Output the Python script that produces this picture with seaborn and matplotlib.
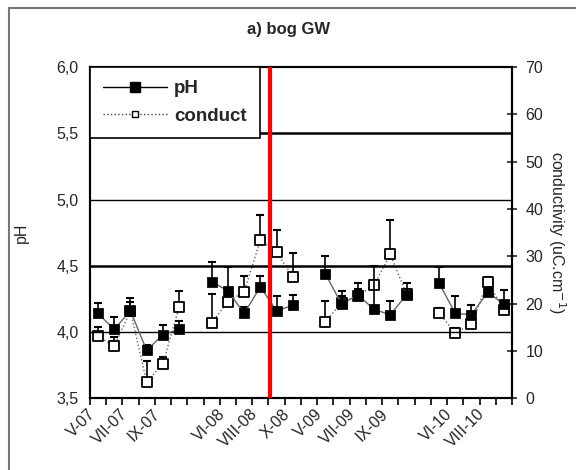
import numpy as np
import pandas as pd
import matplotlib
matplotlib.use("Agg")
import matplotlib.pyplot as plt
import seaborn as sns
from matplotlib.lines import Line2D
from matplotlib.ticker import FixedLocator, FuncFormatter

# ---------------- data ----------------
months = ["V-07", "VI-07", "VII-07", "VIII-07", "IX-07", "X-07", "",
          "V-08", "VI-08", "VII-08", "VIII-08", "IX-08", "X-08", "",
          "V-09", "VI-09", "VII-09", "VIII-09", "IX-09", "X-09", "",
          "V-10", "VI-10", "VII-10", "VIII-10", "IX-10"]
shown = {"V-07", "VII-07", "IX-07", "VI-08", "VIII-08", "X-08",
         "V-09", "VII-09", "IX-09", "VI-10", "VIII-10"}

nan = np.nan
ph = [4.14, 4.02, 4.16, 3.86, 3.98, 4.02, nan,
      4.38, 4.31, 4.14, 4.34, 4.16, 4.20, nan,
      4.44, 4.21, 4.28, 4.17, 4.13, 4.28, nan,
      4.37, 4.14, 4.13, 4.30, 4.21]
ph_err = [0.08, 0.09, 0.10, 0.04, 0.07, 0.06, nan,
          0.15, 0.18, 0.05, 0.08, 0.11, 0.08, nan,
          0.13, 0.10, 0.09, 0.33, 0.10, 0.09, nan,
          0.12, 0.13, 0.07, 0.03, 0.11]
cond = [13.1, 11.0, 18.4, 3.4, 7.3, 19.3, nan,
        15.9, 20.4, 22.5, 33.4, 30.9, 25.6, nan,
        16.1, 20.2, 21.6, 23.9, 30.4, 22.0, nan,
        18.0, 13.8, 15.6, 24.6, 18.6]
cond_err = [2.0, 2.0, 2.0, 4.5, 1.3, 3.4, nan,
            6.2, 2.0, 3.3, 5.3, 4.6, 5.0, nan,
            4.5, 1.5, 1.5, 1.0, 7.2, 1.0, nan,
            1.0, 1.0, 1.5, 1.0, 1.0]
event_pos = 10.6   # red line, between VIII-08 and IX-08

df = pd.DataFrame({"pos": np.arange(len(months)), "ph": ph, "ph_err": ph_err,
                   "cond": cond, "cond_err": cond_err})
df["seg"] = df["ph"].isna().cumsum()
d = df.dropna(subset=["ph"])

# ---------------- figure ----------------
sns.set_style("ticks")
plt.rcParams["font.family"] = ["Liberation Sans", "DejaVu Sans"]

fig = plt.figure(figsize=(5.76, 4.70), dpi=100)
ax = fig.add_axes([0.156, 0.153, 0.733, 0.704])
ax2 = ax.twinx()
# pH axis drawn above the conductivity axis
ax.set_zorder(ax2.get_zorder() + 1)
ax.patch.set_visible(False)

# horizontal reference lines
for y, lw in [(4.0, 1.0), (5.0, 1.0), (4.5, 1.8), (5.5, 1.8)]:
    ax.axhline(y, color="black", lw=lw, zorder=0)

# conductivity series
ax2.errorbar(d["pos"], d["cond"], yerr=[np.zeros(len(d)), d["cond_err"]], fmt="none",
             ecolor="black", elinewidth=1.2, capsize=3, capthick=1.5, zorder=2)
sns.lineplot(data=d, x="pos", y="cond", units="seg", estimator=None, color="#666666",
             lw=1, ls=":", ax=ax2, legend=False, zorder=3)
sns.scatterplot(data=d, x="pos", y="cond", marker="s", s=42, color="white",
                edgecolor="black", linewidth=1.3, ax=ax2, legend=False, zorder=4)

# pH series
ax.errorbar(d["pos"], d["ph"], yerr=[np.zeros(len(d)), d["ph_err"]], fmt="none",
            ecolor="black", elinewidth=1.2, capsize=3, capthick=1.5, zorder=2)
sns.lineplot(data=d, x="pos", y="ph", units="seg", estimator=None, color="#666666",
             lw=1, ax=ax, legend=False, zorder=3)
sns.scatterplot(data=d, x="pos", y="ph", marker="s", s=45, color="black",
                edgecolor="black", ax=ax, legend=False, zorder=4)

ax.axvline(event_pos, color="#ff0000", lw=3, zorder=6)

# axes
ax.set_xlim(-0.5, len(months) - 0.5)
ax.set_ylim(3.5, 6.0)
ax2.set_ylim(0, 70)
ax.set_yticks(np.arange(3.5, 6.01, 0.5))
ax.yaxis.set_major_formatter(FuncFormatter(lambda v, p: f"{v:.1f}".replace(".", ",")))
ax2.set_yticks(np.arange(0, 71, 10))

ax.xaxis.set_major_locator(FixedLocator(df["pos"].tolist()))
ax.set_xticklabels([m if m in shown else "" for m in months],
                   rotation=45, ha="right", fontsize=11.5)
ax.xaxis.set_minor_locator(FixedLocator(np.arange(-0.5, len(months), 1.0)))
ax.tick_params(axis="x", which="major", length=0, pad=6)
ax.tick_params(axis="x", which="minor", length=5, width=1.2, color="black")
ax.tick_params(axis="y", length=0, labelsize=11.5, pad=8)
ax2.tick_params(axis="y", direction="inout", length=7, width=1.2, labelsize=11.5, pad=6)

ax.set_xlabel("")
ax.set_ylabel("pH", fontsize=11.5, labelpad=20)
ax2.set_ylabel(r"conductivity (uC.cm$^{-1}$)", fontsize=11.5, rotation=270, labelpad=18)
ax.set_title("a) bog GW", fontsize=12, fontweight="bold", pad=24, x=0.47)

for a in (ax, ax2):
    for s in a.spines.values():
        s.set_color("black")
        s.set_linewidth(1.5)

handles = [
    Line2D([], [], color="black", lw=1, marker="s", ms=7, mfc="black", mec="black"),
    Line2D([], [], color="#444444", lw=1, ls=":", marker="s", ms=5, mfc="white", mec="black"),
]
leg = ax.legend(handles, ["pH", "conduct"], loc="upper left", bbox_to_anchor=(0, 1),
                borderaxespad=0, fancybox=False, framealpha=1, edgecolor="black",
                handlelength=3.4, handletextpad=0.4, labelspacing=0.55, borderpad=0.7,
                prop={"size": 13.5, "weight": "bold"})
leg.get_frame().set_linewidth(1.2)
leg.set_zorder(10)

# chart-area border (top and left edges visible in the reference)
fig.add_artist(Line2D([0.016, 1.0], [0.983, 0.983], transform=fig.transFigure,
                      color="#777777", lw=1.5))
fig.add_artist(Line2D([0.016, 0.016], [0.0, 0.983], transform=fig.transFigure,
                      color="#777777", lw=1.5))

fig.savefig("out.png", dpi=100)
